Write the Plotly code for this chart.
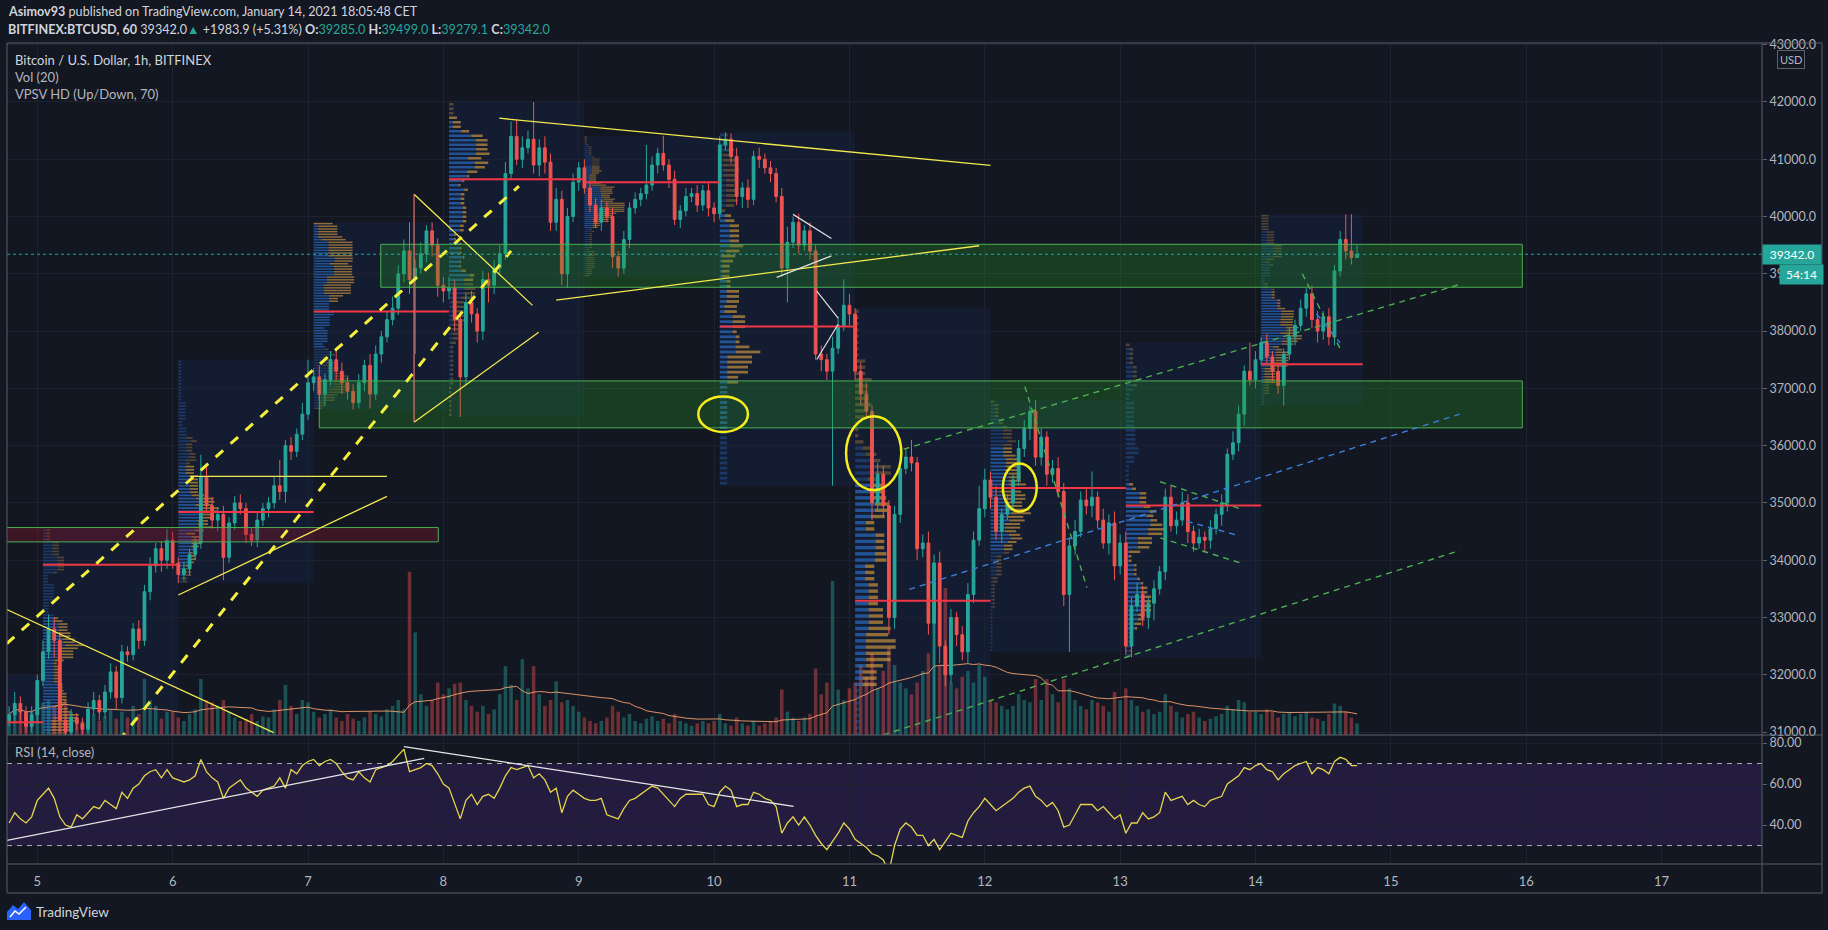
import numpy as np
import pandas as pd
import plotly.graph_objects as go

# ---------------- DATA ----------------
# hourly candles, hour 0 = Jan 5 00:00 (CET); first bar at hour -5
first_open = 31200
pre_close = [31300, 31500, 31350, 31100, 31300]
d5_close = [31900, 32400, 32800, 32600, 31200, 31000, 31250, 31150, 31050, 31400, 31550, 31350,
            31700, 32050, 31600, 32400, 32350, 32800, 32600, 33450, 33900, 34200, 34000, 34350]
d6_close = [33950, 33750, 33850, 34100, 34300, 35450, 34950, 34700, 34800, 34050, 34650, 35000,
            34900, 34450, 34350, 34700, 34900, 35000, 35300, 35200, 36000, 35900, 36200, 36550]
d7_close = [37100, 37200, 36900, 37150, 37500, 37300, 37100, 36950, 36750, 37100, 37400, 36900,
            37600, 37900, 38200, 38400, 39000, 39400, 38900, 39100, 39350, 39750, 39500, 38800]
d8_close = [38700, 38750, 38200, 37200, 38500, 38300, 38000, 38900, 38800, 39100, 39350, 40750,
            41400, 41000, 41200, 41350, 40900, 41200, 40950, 39900, 40300, 39000, 40000, 40600]
d9_close = [40850, 40500, 40200, 39900, 40150, 40000, 39300, 39100, 39600, 40150, 40300, 40400,
            40550, 40900, 41100, 40900, 40650, 39950, 40100, 40350, 40400, 40200, 40450, 40150]
d10_close = [40050, 41250, 41350, 41050, 40350, 40500, 40300, 41050, 41000, 40850, 40750, 40350,
             39100, 39550, 39900, 39500, 39750, 39400, 37600, 37500, 37300, 37700, 38100, 38450]
d11_close = [38300, 37300, 36900, 36600, 35000, 35500, 34950, 33000, 34800, 35600, 35800, 35700,
             34200, 34300, 32900, 33950, 32500, 32000, 33000, 32700, 32400, 33400, 34350, 34900]
d12_close = [35400, 35100, 34500, 34800, 35000, 35400, 35950, 36300, 36600, 35800, 36150, 35500,
             35600, 35200, 33400, 34250, 34500, 35050, 34950, 35100, 34700, 34300, 34650, 33900]
d13_close = [34300, 32500, 33200, 33400, 33000, 33250, 33500, 33800, 35100, 34600, 34700, 35000,
             34500, 34300, 34400, 34350, 34550, 34800, 35000, 35850, 36050, 36550, 37300, 37150]
d14_close = [37500, 37800, 37550, 37300, 37050, 37600, 37900, 38100, 38400, 38650, 38200, 38000,
             38250, 37900, 39050, 39600, 39400, 39285, 39342]

# upper / lower wick lengths (USD)
pre_wu = [150, 200, 120, 100, 150]
pre_wd = [100, 150, 200, 120, 100]
d5_wu = [100, 200, 250, 200, 150, 100, 150, 80, 100, 120, 150, 100, 120, 150, 100, 120, 100, 100, 150, 120, 150, 100, 120, 200]
d5_wd = [150, 100, 120, 300, 200, 150, 100, 120, 100, 80, 100, 150, 100, 120, 200, 100, 120, 100, 150, 100, 150, 120, 200, 150]
d6_wu = [150, 100, 120, 100, 100, 390, 210, 150, 120, 150, 100, 120, 150, 100, 120, 150, 100, 100, 150, 450, 100, 150, 100, 200]
d6_wd = [100, 150, 100, 120, 100, 100, 100, 150, 200, 400, 100, 120, 100, 150, 100, 120, 100, 150, 100, 150, 200, 150, 100, 100]
d7_wu = [400, 150, 200, 100, 150, 200, 150, 100, 120, 150, 100, 200, 150, 100, 150, 200, 150, 200, 500, 150, 200, 100, 150, 120]
d7_wd = [100, 150, 100, 200, 100, 150, 200, 150, 120, 100, 150, 250, 100, 150, 100, 100, 120, 150, 250, 1300, 100, 150, 200, 200]
d8_wu = [150, 200, 150, 100, 150, 200, 100, 150, 120, 150, 150, 200, 260, 300, 200, 150, 650, 150, 200, 150, 200, 150, 150, 150]
d8_wd = [200, 150, 200, 700, 150, 150, 200, 150, 300, 150, 100, 100, 100, 100, 150, 100, 150, 200, 200, 150, 150, 200, 250, 100]
d9_wu = [100, 150, 100, 120, 150, 100, 150, 100, 150, 100, 120, 100, 700, 150, 100, 310, 100, 150, 100, 150, 100, 150, 100, 150]
d9_wd = [150, 100, 120, 100, 150, 100, 200, 150, 100, 150, 100, 120, 100, 100, 150, 100, 150, 100, 150, 100, 100, 120, 100, 150]
d10_wu = [100, 150, 120, 100, 150, 100, 150, 100, 150, 100, 120, 100, 150, 270, 100, 150, 100, 150, 100, 150, 100, 200, 150, 450]
d10_wd = [150, 100, 100, 120, 150, 200, 150, 100, 150, 100, 150, 100, 150, 600, 100, 150, 100, 150, 100, 200, 150, 2000, 100, 100]
d11_wu = [200, 100, 150, 200, 100, 200, 150, 100, 150, 200, 150, 300, 100, 150, 200, 150, 200, 100, 150, 100, 150, 200, 150, 400]
d11_wd = [200, 150, 200, 100, 300, 150, 200, 300, 200, 150, 100, 150, 200, 150, 200, 2100, 300, 200, 150, 200, 150, 200, 150, 100]
d12_wu = [200, 150, 200, 100, 150, 100, 150, 150, 100, 200, 150, 100, 150, 200, 150, 150, 200, 150, 200, 450, 100, 200, 150, 200]
d12_wd = [150, 200, 150, 200, 100, 150, 100, 150, 200, 150, 150, 200, 150, 100, 200, 1000, 150, 100, 150, 200, 150, 100, 200, 250]
d13_wu = [150, 200, 150, 200, 150, 100, 150, 100, 150, 200, 150, 200, 150, 100, 150, 100, 150, 100, 150, 100, 200, 150, 100, 500]
d13_wd = [150, 150, 200, 100, 150, 200, 300, 100, 150, 100, 150, 100, 200, 150, 100, 200, 150, 100, 200, 150, 100, 150, 200, 100]
d14_wu = [150, 100, 150, 100, 150, 100, 150, 100, 150, 100, 150, 150, 100, 150, 100, 150, 440, 640, 157]
d14_wd = [150, 100, 150, 200, 150, 350, 100, 150, 100, 150, 150, 200, 150, 150, 150, 100, 150, 121, 5.9]

# volume (relative units)
pre_vol = [18, 25, 22, 15, 20]
d5_vol = [35, 28, 30, 25, 42, 30, 20, 14, 12, 15, 18, 12, 16, 22, 14, 20, 15, 25, 18, 48, 30, 25, 14, 20]
d6_vol = [20, 15, 12, 18, 22, 48, 30, 28, 25, 30, 20, 15, 12, 14, 18, 12, 16, 15, 22, 30, 43, 25, 18, 30]
d7_vol = [28, 20, 15, 18, 22, 15, 12, 18, 14, 12, 15, 20, 18, 16, 22, 25, 30, 22, 140, 88, 35, 25, 30, 45]
d8_vol = [35, 40, 44, 45, 30, 25, 20, 25, 18, 22, 35, 59, 43, 30, 65, 40, 59, 35, 25, 30, 46, 28, 30, 25]
d9_vol = [20, 15, 12, 10, 12, 15, 25, 20, 15, 18, 12, 10, 14, 16, 12, 14, 10, 18, 12, 10, 8, 10, 12, 10]
d10_vol = [12, 18, 10, 8, 15, 10, 8, 12, 8, 10, 12, 15, 39, 20, 15, 12, 15, 18, 57, 35, 45, 132, 39, 30]
d11_vol = [40, 45, 60, 50, 70, 40, 55, 75, 60, 45, 40, 35, 45, 55, 70, 148, 60, 126, 45, 40, 50, 55, 45, 60]
d12_vol = [50, 30, 28, 25, 22, 25, 35, 30, 28, 48, 30, 48, 35, 28, 48, 40, 30, 25, 22, 30, 28, 25, 20, 37]
d13_vol = [30, 40, 30, 25, 20, 22, 18, 20, 35, 25, 20, 15, 18, 20, 15, 12, 14, 16, 18, 25, 22, 30, 28, 20]
d14_vol = [20, 18, 22, 20, 15, 18, 20, 16, 18, 20, 15, 14, 12, 18, 27, 25, 20, 15, 10]

# RSI(14) values
pre_rsi = [41, 46, 43, 41, 44]
d5_rsi = [52, 55, 58, 53, 44, 40, 39, 45, 43, 46, 49, 48, 52, 50, 48, 56, 53, 58, 60, 64, 66, 67, 63, 67]
d6_rsi = [63, 62, 61, 62, 64, 72, 66, 63, 61, 53, 58, 60, 62, 58, 56, 54, 57, 58, 59, 63, 58, 67, 65, 69]
d7_rsi = [71, 72, 69, 71, 72, 70, 66, 63, 62, 66, 63, 61, 67, 68, 69, 71, 74, 77, 66, 67, 68, 70, 69, 65]
d8_rsi = [60, 58, 50, 43, 52, 55, 50, 54, 55, 53, 58, 64, 68, 67, 68, 69, 63, 65, 62, 56, 58, 46, 54, 57]
d9_rsi = [55, 53, 52, 52, 53, 45, 44, 43, 48, 52, 53, 55, 57, 59, 58, 55, 52, 49, 53, 55, 55, 55, 55, 50]
d10_rsi = [49, 56, 59, 57, 49, 50, 50, 56, 55, 53, 52, 49, 36, 41, 44, 40, 44, 40, 35, 31, 28, 32, 36, 41]
d11_rsi = [38, 33, 31, 29, 26, 25, 23, 17, 30, 38, 41, 39, 35, 35, 30, 33, 28, 32, 36, 35, 34, 42, 46, 49]
d12_rsi = [53, 50, 47, 49, 51, 53, 56, 58, 59, 54, 52, 49, 51, 47, 39, 40, 45, 50, 50, 50, 47, 49, 46, 43]
d13_rsi = [45, 36, 41, 41, 46, 43, 44, 46, 56, 52, 53, 54, 50, 52, 50, 49, 52, 53, 54, 60, 62, 64, 68, 67]
d14_rsi = [69, 70, 67, 66, 62, 65, 67, 69, 70, 71, 65, 68, 67, 65, 71, 73, 72, 69, 69]

# VPSV point-of-control price per daily session (sessions start 01:00)
poc_prices = [31170, 33920, 34840, 38340, 40650, 40600, 38080, 33290, 35260, 34955, 37420]

day_labels = ["5", "6", "7", "8", "9", "10", "11", "12", "13", "14", "15", "16", "17"]
price_ticks = [31000, 32000, 33000, 34000, 35000, 36000, 37000, 38000, 39000, 40000, 41000, 42000, 43000]
rsi_ticks = [40, 60, 80]

# user drawings (hour, price)
zones = [(60.9, 263.3, 38765, 39515), (50.0, 263.3, 36310, 37130)]
red_zone = (-8.0, 71.1, 34320, 34570)
yellow_solid = [((81.9, 41717), (169.0, 40892)), ((92.0, 38540), (167.0, 39490)),
                ((-5.4, 33139), (41.9, 30990)), ((27.1, 35463), (62.0, 35463)),
                ((25.0, 33392), (62.0, 35115)), ((66.8, 40388), (87.8, 38449)),
                ((66.8, 36408), (88.9, 37979))]
tri_vertical = ((66.8, 36408), (66.8, 40388))
yellow_dashed = [((-5.4, 32545), (85.4, 40530)), ((10.0, 30300), (84.0, 39400))]
green_dashed = [((153.6, 35938), (252.2, 38815)), ((150.0, 30950), (252.2, 34170)),
                ((175.1, 37034), (186.1, 33523)), ((199.1, 35370), (213.2, 34900)),
                ((199.1, 34390), (213.2, 33957)), ((224.3, 39000), (231.1, 37673))]
blue_dashed = [((154.6, 33490), (252.2, 36550)), ((203.8, 34680), (213.0, 34430)),
               ((226.8, 38300), (231.0, 37794))]
white_lines = [((134.0, 40038), (140.8, 39618)), ((131.1, 38937), (140.8, 39314)),
               ((138.2, 38699), (142.0, 38228)), ((138.2, 37504), (142.0, 38119))]
circles = [(121.6, 36550, 4.4, 310), (148.3, 35870, 4.9, 645), (174.2, 35270, 3.0, 420)]
rsi_lines = [((-5.4, 32.5), (68.6, 72.5)), ((65.0, 78.2), (134.1, 49.1))]
last_price = 39342.0

# ---------------- assemble ----------------
closes = pre_close + d5_close + d6_close + d7_close + d8_close + d9_close + d10_close + d11_close + d12_close + d13_close + d14_close
wu = pre_wu + d5_wu + d6_wu + d7_wu + d8_wu + d9_wu + d10_wu + d11_wu + d12_wu + d13_wu + d14_wu
wd = pre_wd + d5_wd + d6_wd + d7_wd + d8_wd + d9_wd + d10_wd + d11_wd + d12_wd + d13_wd + d14_wd
vols = pre_vol + d5_vol + d6_vol + d7_vol + d8_vol + d9_vol + d10_vol + d11_vol + d12_vol + d13_vol + d14_vol
rsi = pre_rsi + d5_rsi + d6_rsi + d7_rsi + d8_rsi + d9_rsi + d10_rsi + d11_rsi + d12_rsi + d13_rsi + d14_rsi
hours = list(range(-5, -5 + len(closes)))
opens = [first_open] + closes[:-1]
highs = [max(o, c) + w for o, c, w in zip(opens, closes, wu)]
lows = [min(o, c) - w for o, c, w in zip(opens, closes, wd)]
vol_ma = pd.Series(vols).rolling(20, min_periods=1).mean().tolist()

# ---------------- geometry ----------------
W, H = 1828, 930
L, R, T, B = 7, 1762, 43, 864
SPLIT = 735
def px(x): return (x - L) / (R - L)
def py(y): return (B - y) / (B - T)
XMIN, XMAX = -5.37, 305.8
PMIN, PMAX = 30948, 43030
BG = "#131722"
UP, DN = "#26a69a", "#ef5350"
TXT = "#b2b5be"
GRID = "#1e2230"
FRAME = "#5d606b"
FONT = "Lato"
YEL = "#f2e94e"

fig = go.Figure()

# volume
fig.add_trace(go.Bar(x=hours, y=vols, width=0.62, xaxis="x", yaxis="y",
                     marker=dict(color=["rgba(38,166,154,0.42)" if c >= o else "rgba(239,83,80,0.42)"
                                        for o, c in zip(opens, closes)], line=dict(width=0)),
                     hoverinfo="skip"))
fig.add_trace(go.Scatter(x=hours, y=vol_ma, mode="lines", xaxis="x", yaxis="y",
                         line=dict(color="rgba(255,167,112,0.85)", width=1), hoverinfo="skip"))

# volume profile (VPSV) per session
NROWS = 70
shapes = []
up_b = dict(x=[], y=[], base=[], w=[], c=[])
dn_b = dict(x=[], y=[], base=[], w=[], c=[])
for k in range(-1, 10):
    s = 1 + 24 * k
    idx = [i for i, h in enumerate(hours) if s <= h < s + 24]
    if not idx:
        continue
    e = min(s + 24, hours[idx[-1]] + 1)
    lo = min(lows[i] for i in idx)
    hi = max(highs[i] for i in idx)
    step = (hi - lo) / NROWS
    up = np.zeros(NROWS)
    dn = np.zeros(NROWS)
    for i in idx:
        a = min(NROWS - 1, int((lows[i] - lo) / step))
        b = min(NROWS - 1, int((highs[i] - lo) / step))
        share = vols[i] / (b - a + 1)
        if closes[i] >= opens[i]:
            up[a:b + 1] += share
        else:
            dn[a:b + 1] += share
    tot = up + dn
    poc = int(np.argmax(tot))
    lo_i = hi_i = poc
    acc = tot[poc]
    target = 0.7 * tot.sum()
    while acc < target and (lo_i > 0 or hi_i < NROWS - 1):
        below = tot[lo_i - 1] if lo_i > 0 else -1
        above = tot[hi_i + 1] if hi_i < NROWS - 1 else -1
        if above >= below:
            hi_i += 1
            acc += tot[hi_i]
        else:
            lo_i -= 1
            acc += tot[lo_i]
    scale = 0.3 * 24 / tot.max()
    for r in range(NROWS):
        yc = lo + (r + 0.5) * step
        inva = lo_i <= r <= hi_i
        up_b["x"].append(up[r] * scale); up_b["y"].append(yc); up_b["base"].append(s)
        up_b["w"].append(step * 0.55)
        up_b["c"].append("rgba(45,120,215,0.6)" if inva else "rgba(45,120,215,0.3)")
        dn_b["x"].append(dn[r] * scale); dn_b["y"].append(yc); dn_b["base"].append(s + up[r] * scale)
        dn_b["w"].append(step * 0.55)
        dn_b["c"].append("rgba(225,165,65,0.6)" if inva else "rgba(225,165,65,0.3)")
    shapes.append(dict(type="rect", xref="x", yref="y2", x0=s, x1=e, y0=lo, y1=hi,
                       fillcolor="rgba(41,98,255,0.07)", line=dict(width=0), layer="below"))
    shapes.append(dict(type="line", xref="x", yref="y2", x0=s, x1=e, y0=poc_prices[k + 1],
                       y1=poc_prices[k + 1], line=dict(color="#f23645", width=2)))

for bd in (up_b, dn_b):
    fig.add_trace(go.Bar(orientation="h", x=bd["x"], y=bd["y"], base=bd["base"], width=bd["w"],
                         xaxis="x", yaxis="y2", marker=dict(color=bd["c"], line=dict(width=0)),
                         hoverinfo="skip"))

# candles
fig.add_trace(go.Candlestick(x=hours, open=opens, high=highs, low=lows, close=closes,
                             xaxis="x", yaxis="y2", whiskerwidth=0,
                             increasing=dict(line=dict(color=UP, width=1), fillcolor=UP),
                             decreasing=dict(line=dict(color=DN, width=1), fillcolor=DN),
                             hoverinfo="skip"))

# RSI
fig.add_trace(go.Scatter(x=hours, y=rsi, mode="lines", xaxis="x2", yaxis="y3",
                         line=dict(color="#e3d44e", width=1.3), hoverinfo="skip"))

# ---------------- drawings ----------------
for h0, h1, p0, p1 in zones:
    shapes.append(dict(type="rect", xref="x", yref="y2", x0=h0, x1=h1, y0=p0, y1=p1,
                       fillcolor="rgba(40,150,40,0.30)", line=dict(color="#4caf50", width=1)))
h0, h1, p0, p1 = red_zone
shapes.append(dict(type="rect", xref="x", yref="y2", x0=h0, x1=h1, y0=p0, y1=p1,
                   fillcolor="rgba(140,20,40,0.35)", line=dict(color="#4caf50", width=1)))
for (a, b) in yellow_solid:
    shapes.append(dict(type="line", xref="x", yref="y2", x0=a[0], y0=a[1], x1=b[0], y1=b[1],
                       line=dict(color=YEL, width=1.3)))
a, b = tri_vertical
shapes.append(dict(type="line", xref="x", yref="y2", x0=a[0], y0=a[1], x1=b[0], y1=b[1],
                   line=dict(color="#e57373", width=1.2)))
for (a, b) in yellow_dashed:
    shapes.append(dict(type="line", xref="x", yref="y2", x0=a[0], y0=a[1], x1=b[0], y1=b[1],
                       line=dict(color="#f5f03c", width=3, dash="10px,10px")))
for (a, b) in green_dashed:
    shapes.append(dict(type="line", xref="x", yref="y2", x0=a[0], y0=a[1], x1=b[0], y1=b[1],
                       line=dict(color="#4caf50", width=1.4, dash="6px,5px")))
for (a, b) in blue_dashed:
    shapes.append(dict(type="line", xref="x", yref="y2", x0=a[0], y0=a[1], x1=b[0], y1=b[1],
                       line=dict(color="#3d7fd6", width=1.4, dash="6px,5px")))
for (a, b) in white_lines:
    shapes.append(dict(type="line", xref="x", yref="y2", x0=a[0], y0=a[1], x1=b[0], y1=b[1],
                       line=dict(color="#e0e0e0", width=1.2)))
for hc, pc, hw, ph in circles:
    shapes.append(dict(type="circle", xref="x", yref="y2", x0=hc - hw, x1=hc + hw, y0=pc - ph,
                       y1=pc + ph, line=dict(color="#f5ec1b", width=2.5)))
# last price dotted line
shapes.append(dict(type="line", xref="x", yref="y2", x0=XMIN, x1=XMAX, y0=last_price, y1=last_price,
                   line=dict(color=UP, width=1, dash="dot")))
# RSI band & levels
shapes.append(dict(type="rect", xref="x2", yref="y3", x0=XMIN, x1=XMAX, y0=30, y1=70,
                   fillcolor="rgba(100,50,180,0.2)", line=dict(width=0), layer="below"))
for lvl in (30, 70):
    shapes.append(dict(type="line", xref="x2", yref="y3", x0=XMIN, x1=XMAX, y0=lvl, y1=lvl,
                       line=dict(color="rgba(220,220,220,0.75)", width=1, dash="5px,5px")))
for (a, b) in rsi_lines:
    shapes.append(dict(type="line", xref="x2", yref="y3", x0=a[0], y0=a[1], x1=b[0], y1=b[1],
                       line=dict(color="#e6e6e6", width=1.3)))

# frame lines
RB = 1822
BB = 893
def hline(y, x0=L, x1=RB):
    shapes.append(dict(type="line", xref="paper", yref="paper", x0=px(x0), x1=px(x1), y0=py(y), y1=py(y),
                       line=dict(color=FRAME, width=1)))
def vline(x, y0=T, y1=BB):
    shapes.append(dict(type="line", xref="paper", yref="paper", x0=px(x), x1=px(x), y0=py(y0), y1=py(y1),
                       line=dict(color=FRAME, width=1)))
hline(T); hline(SPLIT); hline(B); hline(BB)
vline(L); vline(R); vline(RB)

# TradingView logo icon
logo = "M {} {} L {} {} L {} {} L {} {} L {} {} L {} {} L {} {} Z".format(
    px(7), py(920), px(7), py(912), px(13), py(905), px(18), py(909), px(24), py(902), px(31), py(910), px(31), py(920))
shapes.append(dict(type="path", xref="paper", yref="paper", path=logo, fillcolor="#2962ff", line=dict(width=0)))
zig = "M {} {} L {} {} L {} {} L {} {}".format(px(10), py(917), px(15), py(911), px(19), py(914), px(26), py(907))
shapes.append(dict(type="path", xref="paper", yref="paper", path=zig, line=dict(color="white", width=1.5)))

# ---------------- annotations ----------------
ann = []
def txt(x, y, s, size=12, color="#d1d4dc", **kw):
    ann.append(dict(xref="paper", yref="paper", x=px(x), y=py(y), text=s, showarrow=False,
                    xanchor="left", yanchor="middle", font=dict(family=FONT, size=size, color=color), **kw))
G = "#26a69a"
txt(6, 12, "<b>Asimov93</b> published on TradingView.com, January 14, 2021 18:05:48 CET", 12.6)
txt(6, 29, "<b>BITFINEX:BTCUSD, 60</b> 39342.0<span style='color:%s'>▲</span> +1983.9 (+5.31%%) "
           "<b>O:</b><span style='color:%s'>39285.0</span> <b>H:</b><span style='color:%s'>39499.0</span> "
           "<b>L:</b><span style='color:%s'>39279.1</span> <b>C:</b><span style='color:%s'>39342.0</span>"
    % (G, G, G, G, G), 12.6)
txt(13, 60, "Bitcoin / U.S. Dollar, 1h, BITFINEX", 13, "#d1d4dc")
txt(13, 77, "Vol (20)", 13, TXT)
txt(13, 94, "VPSV HD (Up/Down, 70)", 13, TXT)
txt(13, 752, "RSI (14, close)", 13, TXT)
txt(34, 912, "TradingView", 13.5, "#d1d4dc")
# price tags
ann.append(dict(xref="paper", yref="y2", x=1, y=last_price, xanchor="left", yanchor="middle",
                text="39342.0", showarrow=False, bgcolor=G, width=54, height=15, borderpad=2,
                font=dict(family=FONT, size=12, color="white")))
ann.append(dict(xref="paper", yref="y2", x=px(1779), y=last_price, xanchor="left", yanchor="top", yshift=-10,
                text="54:14", showarrow=False, bgcolor=G, width=39, height=15, borderpad=2,
                font=dict(family=FONT, size=12, color="white")))
ann.append(dict(xref="paper", yref="paper", x=px(1791), y=py(60), xanchor="center", yanchor="middle",
                text="USD", showarrow=False, bgcolor=BG, bordercolor=FRAME, borderwidth=1, borderpad=2,
                font=dict(family=FONT, size=11, color=TXT)))

day_pos = [(int(d) - 5) * 24 for d in day_labels]
h_split = py(SPLIT)
fig.update_layout(
    width=W, height=H, paper_bgcolor=BG, plot_bgcolor=BG,
    margin=dict(l=L, r=W - R, t=T, b=H - B, pad=0),
    showlegend=False, barmode="overlay", hovermode=False,
    font=dict(family=FONT, color=TXT, size=12),
    xaxis=dict(domain=[0, 1], anchor="y", range=[XMIN, XMAX], tickvals=day_pos, showticklabels=False,
               showgrid=True, gridcolor=GRID, zeroline=False, showline=False, rangeslider=dict(visible=False),
               fixedrange=True),
    xaxis2=dict(domain=[0, 1], anchor="y3", range=[XMIN, XMAX], tickvals=day_pos, ticktext=day_labels,
                showgrid=True, gridcolor=GRID, zeroline=False, showline=False, ticks="outside", ticklen=5,
                tickcolor="rgba(0,0,0,0)", tickfont=dict(family=FONT, size=13, color=TXT)),
    yaxis=dict(domain=[h_split, 1], anchor="x", range=[0, 593.6], visible=False, showgrid=False),
    yaxis2=dict(domain=[h_split, 1], anchor="x", overlaying="y", side="right", range=[PMIN, PMAX],
                tickvals=price_ticks, ticktext=["%.1f" % v for v in price_ticks], showgrid=True,
                gridcolor=GRID, zeroline=False, showline=False, ticks="outside", ticklen=4, tickcolor=FRAME,
                tickfont=dict(family=FONT, size=12.5, color=TXT)),
    yaxis3=dict(domain=[0, h_split], anchor="x2", side="right", range=[21, 83.9], tickvals=rsi_ticks,
                ticktext=["%.2f" % v for v in rsi_ticks], showgrid=True, gridcolor=GRID, zeroline=False,
                showline=False, ticks="outside", ticklen=4, tickcolor=FRAME,
                tickfont=dict(family=FONT, size=12.5, color=TXT)),
    shapes=shapes, annotations=ann,
)

fig.write_html("out.html", config={"displayModeBar": False},
               post_script="document.body.style.margin='0px';document.body.style.overflow='hidden';")
